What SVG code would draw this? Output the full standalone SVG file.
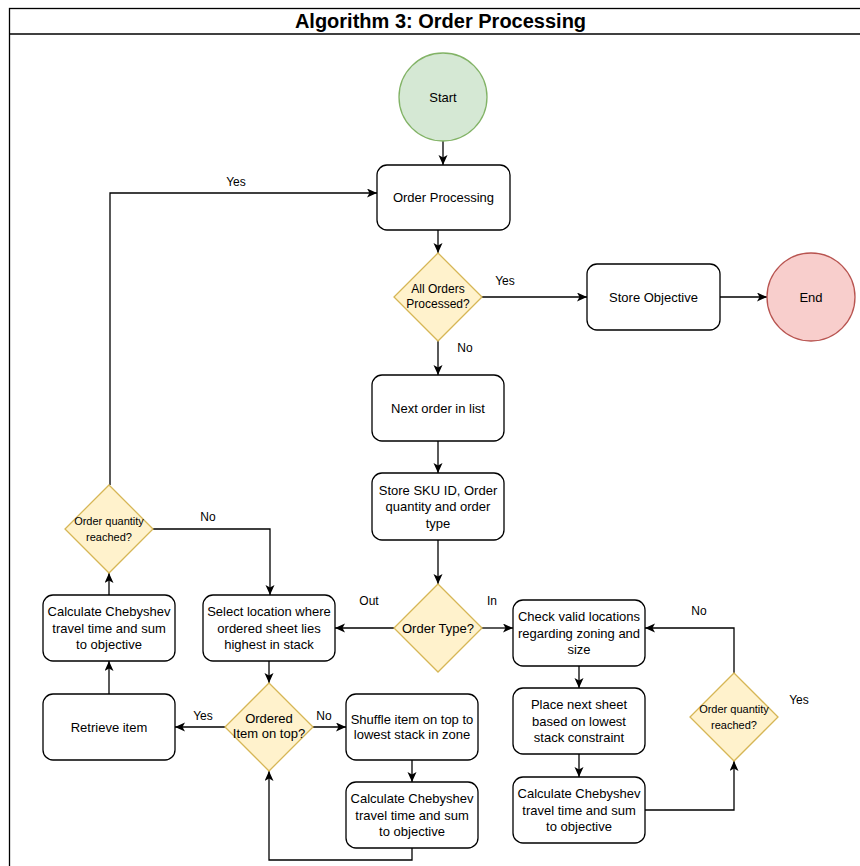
<svg xmlns="http://www.w3.org/2000/svg" width="860" height="866" viewBox="0 0 860 866">
<style>
text{font-family:"Liberation Sans",Arial,sans-serif;fill:#000;text-anchor:middle}
.t{font-size:13px}
.s{font-size:12px}
.xs{font-size:11px}
.l{font-size:12px}
.box{fill:#fff;stroke:#000;stroke-width:1.3}
.dec{fill:#fff2cc;stroke:#d6b656;stroke-width:1.3}
.e{fill:none;stroke:#000;stroke-width:1.3}
</style>
<defs>
<marker id="a" markerUnits="userSpaceOnUse" markerWidth="12" markerHeight="10" refX="10" refY="4.5" orient="auto">
<path d="M0,0 L10,4.5 L0,9 L2.5,4.5 z" fill="#000"/>
</marker>
</defs>
<rect x="0" y="0" width="860" height="866" fill="#fff"/>
<g id="frame">
<rect x="9.5" y="8.5" width="862" height="870" fill="none" stroke="#000" stroke-width="1.3"/>
<line x1="9.5" y1="34" x2="860" y2="34" stroke="#000" stroke-width="1.3"/>
<text x="440.5" y="28" style="font-size:20px;font-weight:bold">Algorithm 3: Order Processing</text>
</g>
<g id="connectors">
<path class="e" marker-end="url(#a)" d="M443,141 V165"/>
<path class="e" marker-end="url(#a)" d="M438,230 V253"/>
<path class="e" marker-end="url(#a)" d="M482,297 H587"/>
<path class="e" marker-end="url(#a)" d="M720,297 H767"/>
<path class="e" marker-end="url(#a)" d="M438,341 V375"/>
<path class="e" marker-end="url(#a)" d="M438,441 V473"/>
<path class="e" marker-end="url(#a)" d="M438,540 V584"/>
<path class="e" marker-end="url(#a)" d="M394,628 H335"/>
<path class="e" marker-end="url(#a)" d="M482,628 H513"/>
<path class="e" marker-end="url(#a)" d="M579,666 V688"/>
<path class="e" marker-end="url(#a)" d="M579,754 V777"/>
<path class="e" marker-end="url(#a)" d="M645,810 H734 V761"/>
<path class="e" marker-end="url(#a)" d="M734,673 V628 H645"/>
<path class="e" marker-end="url(#a)" d="M269,661 V683"/>
<path class="e" marker-end="url(#a)" d="M225,727 H175"/>
<path class="e" marker-end="url(#a)" d="M313,727 H346"/>
<path class="e" marker-end="url(#a)" d="M412,760 V782"/>
<path class="e" marker-end="url(#a)" d="M412,848 V860 H269 V771"/>
<path class="e" marker-end="url(#a)" d="M109,694 V661"/>
<path class="e" marker-end="url(#a)" d="M109,595 V573"/>
<path class="e" marker-end="url(#a)" d="M110,485 V193 H377"/>
<path class="e" marker-end="url(#a)" d="M153,529 H270 V595"/>
<text class="l" x="236" y="186">Yes</text>
<text class="l" x="505" y="285">Yes</text>
<text class="l" x="465" y="352">No</text>
<text class="l" x="369" y="605">Out</text>
<text class="l" x="492" y="605">In</text>
<text class="l" x="208" y="521">No</text>
<text class="l" x="203" y="720">Yes</text>
<text class="l" x="324" y="720">No</text>
<text class="l" x="699" y="615">No</text>
<text class="l" x="799" y="704">Yes</text>
</g>
<g id="start">
<circle cx="443" cy="97" r="44" fill="#d5e8d4" stroke="#82b366" stroke-width="1.3"/>
<text class="t" x="443" y="101.5">Start</text>
</g>
<g id="orderProcessing">
<rect class="box" x="377" y="165" width="133" height="65" rx="10"/>
<text class="t" x="443.5" y="202">Order Processing</text>
</g>
<g id="allOrders">
<path class="dec" d="M438,253 L482,297 L438,341 L394,297 Z"/>
<text class="s" x="438" y="293">All Orders</text>
<text class="s" x="438" y="308">Processed?</text>
</g>
<g id="storeObjective">
<rect class="box" x="587" y="264" width="133" height="66" rx="10"/>
<text class="t" x="653.5" y="301.5">Store Objective</text>
</g>
<g id="end">
<circle cx="811" cy="297" r="44" fill="#f8cecc" stroke="#b85450" stroke-width="1.3"/>
<text class="t" x="811" y="301.5">End</text>
</g>
<g id="nextOrder">
<rect class="box" x="372" y="375" width="132" height="66" rx="10"/>
<text class="t" x="438" y="412.5">Next order in list</text>
</g>
<g id="storeSku">
<rect class="box" x="372" y="473" width="132" height="67" rx="10"/>
<text class="t" x="438" y="494.5">Store SKU ID, Order</text>
<text class="t" x="438" y="511">quantity and order</text>
<text class="t" x="438" y="527.5">type</text>
</g>
<g id="orderType">
<path class="dec" d="M438,584 L482,628 L438,672 L394,628 Z"/>
<text class="t" x="438" y="632.5">Order Type?</text>
</g>
<g id="checkValid">
<rect class="box" x="513" y="600" width="132" height="66" rx="10"/>
<text class="t" x="579" y="621">Check valid locations</text>
<text class="t" x="579" y="637.5">regarding zoning and</text>
<text class="t" x="579" y="654">size</text>
</g>
<g id="placeNext">
<rect class="box" x="513" y="688" width="132" height="66" rx="10"/>
<text class="t" x="579" y="709">Place next sheet</text>
<text class="t" x="579" y="725.5">based on lowest</text>
<text class="t" x="579" y="742">stack constraint</text>
</g>
<g id="calcRight">
<rect class="box" x="513" y="777" width="132" height="66" rx="10"/>
<text class="t" x="579" y="798">Calculate Chebyshev</text>
<text class="t" x="579" y="814.5">travel time and sum</text>
<text class="t" x="579" y="831">to objective</text>
</g>
<g id="qtyRight">
<path class="dec" d="M734,673 L778,717 L734,761 L690,717 Z"/>
<text class="xs" x="734" y="713">Order quantity</text>
<text class="xs" x="734" y="729">reached?</text>
</g>
<g id="selectLocation">
<rect class="box" x="203" y="595" width="132" height="66" rx="10"/>
<text class="t" x="269" y="616">Select location where</text>
<text class="t" x="269" y="632.5">ordered sheet lies</text>
<text class="t" x="269" y="649">highest in stack</text>
</g>
<g id="orderedOnTop">
<path class="dec" d="M269,683 L313,727 L269,771 L225,727 Z"/>
<text class="t" x="269" y="722.5">Ordered</text>
<text class="t" x="269" y="738">Item on top?</text>
</g>
<g id="retrieve">
<rect class="box" x="43" y="694" width="132" height="66" rx="10"/>
<text class="t" x="109" y="731.5">Retrieve item</text>
</g>
<g id="shuffle">
<rect class="box" x="346" y="694" width="132" height="66" rx="10"/>
<text class="t" x="412" y="723.5">Shuffle item on top to</text>
<text class="t" x="412" y="739">lowest stack in zone</text>
</g>
<g id="calcMid">
<rect class="box" x="346" y="782" width="132" height="66" rx="10"/>
<text class="t" x="412" y="803">Calculate Chebyshev</text>
<text class="t" x="412" y="819.5">travel time and sum</text>
<text class="t" x="412" y="836">to objective</text>
</g>
<g id="calcLeft">
<rect class="box" x="43" y="595" width="132" height="66" rx="10"/>
<text class="t" x="109" y="616">Calculate Chebyshev</text>
<text class="t" x="109" y="632.5">travel time and sum</text>
<text class="t" x="109" y="649">to objective</text>
</g>
<g id="qtyLeft">
<path class="dec" d="M109,485 L153,529 L109,573 L65,529 Z"/>
<text class="xs" x="109" y="525">Order quantity</text>
<text class="xs" x="109" y="541">reached?</text>
</g>
</svg>
